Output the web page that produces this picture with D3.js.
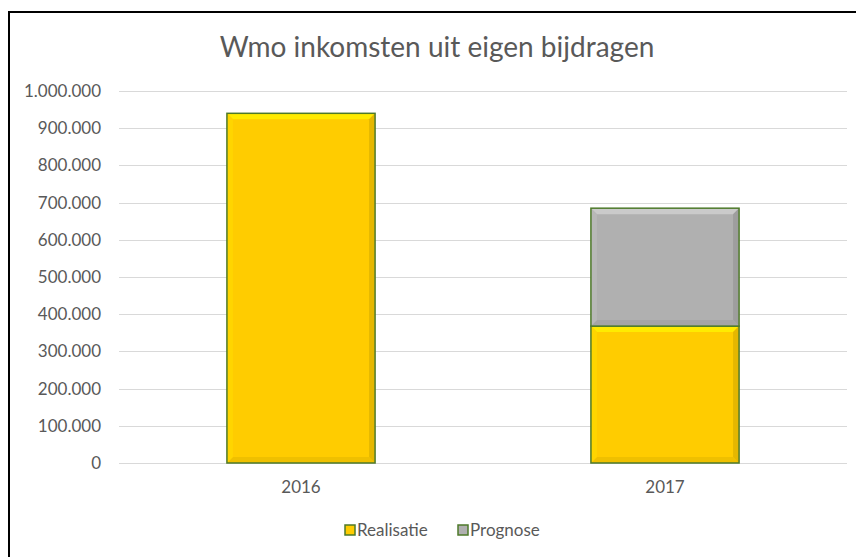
<!DOCTYPE html>
<html>
<head>
<meta charset="utf-8">
<script src="https://cdn.jsdelivr.net/npm/d3@7"></script>
<style>
  body { margin: 0; background: #fff; }
  svg { display: block; font-family: Lato, "Open Sans", sans-serif; }
</style>
</head>
<body>
<div id="viz"></div>
<script>
const years = ['2016', '2017'];
const realisatie = [940000, 368000];
const prognose = [0, 317000];
const yTicks = [0, 100000, 200000, 300000, 400000, 500000, 600000, 700000, 800000, 900000, 1000000];
const seriesNames = ['Realisatie', 'Prognose'];
const seriesColors = ['#ffcc00', '#b0b0b0'];

const W = 856, H = 557;
const FONT = 'Lato, "Open Sans", sans-serif';
const svg = d3.select('#viz').append('svg').attr('width', W).attr('height', H);

// frame (only left and top edge visible in the crop)
svg.append('path')
  .attr('d', 'M9,557V12H856')
  .attr('fill', 'none')
  .attr('stroke', '#000')
  .attr('stroke-width', 2);

svg.append('text')
  .attr('x', 437).attr('y', 57)
  .attr('text-anchor', 'middle')
  .attr('font-size', 28)
  .attr('fill', '#595959')
  .text('Wmo inkomsten uit eigen bijdragen');

const x = d3.scaleBand().domain(years).range([119, 847])
  .paddingInner(0.593).paddingOuter(0.2965);
const y = d3.scaleLinear().domain([0, 1000000]).range([463, 91]);

const fmt = d3.formatLocale({ decimal: ',', thousands: '.', grouping: [3], currency: ['€', ''] }).format(',d');

// grid
svg.append('g').selectAll('line').data(yTicks).join('line')
  .attr('x1', 119).attr('x2', 847)
  .attr('y1', d => Math.round(y(d)) + 0.5).attr('y2', d => Math.round(y(d)) + 0.5)
  .attr('stroke', '#d9d9d9').attr('stroke-width', 1);

const yAxis = svg.append('g').attr('transform', 'translate(101,0)')
  .call(d3.axisLeft(y).tickValues(yTicks).tickFormat(fmt).tickSize(0).tickPadding(0));
yAxis.select('.domain').remove();
yAxis.selectAll('text').attr('font-size', 17).attr('fill', '#595959')
  .attr('font-family', FONT);

const xAxis = svg.append('g').attr('transform', 'translate(0,463)')
  .call(d3.axisBottom(x).tickSize(0).tickPadding(18));
xAxis.select('.domain').remove();
xAxis.selectAll('text').attr('font-size', 17).attr('fill', '#595959')
  .attr('font-family', FONT);

// stacked bars
const rows = years.map((yr, i) => ({ year: yr, Realisatie: realisatie[i], Prognose: prognose[i] }));
const stacked = d3.stack().keys(seriesNames)(rows);

const bev = 6;
function bevel(g, x0, y0, w, h, color) {
  const c = d3.color(color);
  g.append('rect').attr('x', x0).attr('y', y0).attr('width', w).attr('height', h).attr('fill', color);
  const x1 = x0 + w, y1 = y0 + h;
  const b = Math.min(bev, h / 2);
  g.append('path').attr('fill', c.brighter(0.45)).attr('opacity', 0.85)
    .attr('d', `M${x0},${y0}H${x1}L${x1 - b},${y0 + b}H${x0 + b}Z`);
  g.append('path').attr('fill', c.darker(0.22)).attr('opacity', 0.85)
    .attr('d', `M${x0},${y1}H${x1}L${x1 - b},${y1 - b}H${x0 + b}Z`);
  g.append('path').attr('fill', c.brighter(0.12))
    .attr('d', `M${x0},${y0}L${x0 + b},${y0 + b}V${y1 - b}L${x0},${y1}Z`);
  g.append('path').attr('fill', c.darker(0.3))
    .attr('d', `M${x1},${y0}L${x1 - b},${y0 + b}V${y1 - b}L${x1},${y1}Z`);
  g.append('rect').attr('x', x0).attr('y', y0).attr('width', w).attr('height', h)
    .attr('fill', 'none').attr('stroke', '#4e7a2a').attr('stroke-width', 1.5);
}

stacked.forEach((s, si) => {
  s.forEach(d => {
    if (d[1] - d[0] <= 0) return;
    const g = svg.append('g').attr('class', 'bar');
    bevel(g, x(d.data.year), y(d[1]), x.bandwidth(), y(d[0]) - y(d[1]), seriesColors[si]);
  });
});

// legend
const legend = svg.append('g').attr('transform', 'translate(345,530)');
const items = legend.selectAll('g').data(seriesNames).join('g')
  .attr('transform', (d, i) => `translate(${i * 113},0)`);
items.append('rect').attr('x', 0).attr('y', -5).attr('width', 10).attr('height', 10)
  .attr('fill', (d, i) => seriesColors[i]).attr('stroke', '#4e7a2a').attr('stroke-width', 1.5);
items.append('text').attr('x', 12).attr('y', 6)
  .attr('font-size', 17).attr('fill', '#595959').attr('font-family', FONT).text(d => d);
</script>
</body>
</html>
